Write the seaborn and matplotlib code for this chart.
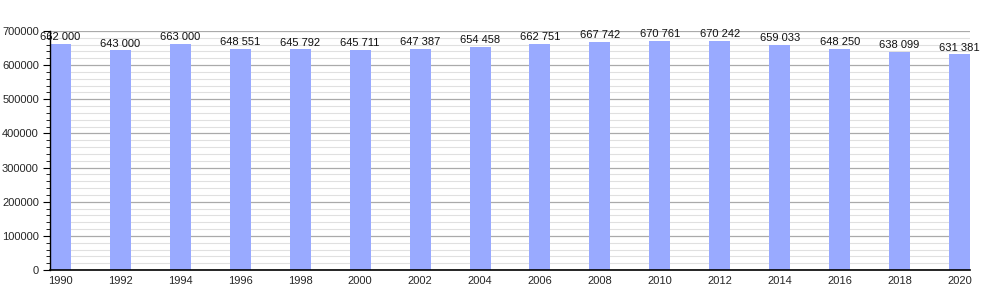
import matplotlib
matplotlib.use("Agg")
import matplotlib.pyplot as plt
import seaborn as sns
import pandas as pd
from matplotlib.ticker import MultipleLocator

years = ["1990", "1992", "1994", "1996", "1998", "2000", "2002", "2004",
         "2006", "2008", "2010", "2012", "2014", "2016", "2018", "2020"]
population = [662000, 643000, 663000, 648551, 645792, 645711, 647387, 654458,
              662751, 667742, 670761, 670242, 659033, 648250, 638099, 631381]

df = pd.DataFrame({"year": years, "pop": population})

sns.set_style("white")
plt.rcParams['font.family'] = ['Liberation Sans', 'DejaVu Sans']

fig = plt.figure(figsize=(10, 3), dpi=100)
ax = fig.add_axes([0.05, 0.1, 0.92, 0.7967])

sns.barplot(data=df, x="year", y="pop", color="#99aaff", saturation=1,
            width=0.35, ax=ax, zorder=3, edgecolor="none", linewidth=0)

ax.set_ylim(0, 700000)
ax.set_xlim(-0.175, len(years) - 1 + 0.175)
ax.yaxis.set_major_locator(MultipleLocator(100000))
ax.yaxis.set_minor_locator(MultipleLocator(20000))
ax.grid(which="major", axis="y", color="#aaaaaa", linewidth=0.9, zorder=0)
ax.grid(which="minor", axis="y", color="#e0e0e0", linewidth=0.8, zorder=0)
ax.set_axisbelow(True)

for s in ["top", "right"]:
    ax.spines[s].set_visible(False)
for s in ["left", "bottom"]:
    ax.spines[s].set_color("black")
    ax.spines[s].set_zorder(6)
ax.spines["left"].set_linewidth(1)
ax.spines["bottom"].set_linewidth(1.2)

ax.tick_params(axis="y", which="major", direction="out", length=5, width=0.8,
               color="black", labelsize=8, left=True, pad=3)
ax.tick_params(axis="y", which="minor", direction="out", length=3, width=0.6,
               color="black", left=True)
ax.tick_params(axis="x", which="both", length=0, labelsize=8, pad=4)
ax.set_yticklabels([f"{int(v)}" for v in ax.get_yticks()])

ax.set_xlabel("")
ax.set_ylabel("")

for i, v in enumerate(population):
    ax.text(i, v + 5000, f"{v:,}".replace(",", " "), ha="center", va="bottom",
            fontsize=8, color="#111111", zorder=7)

fig.savefig("out.png", dpi=100)
